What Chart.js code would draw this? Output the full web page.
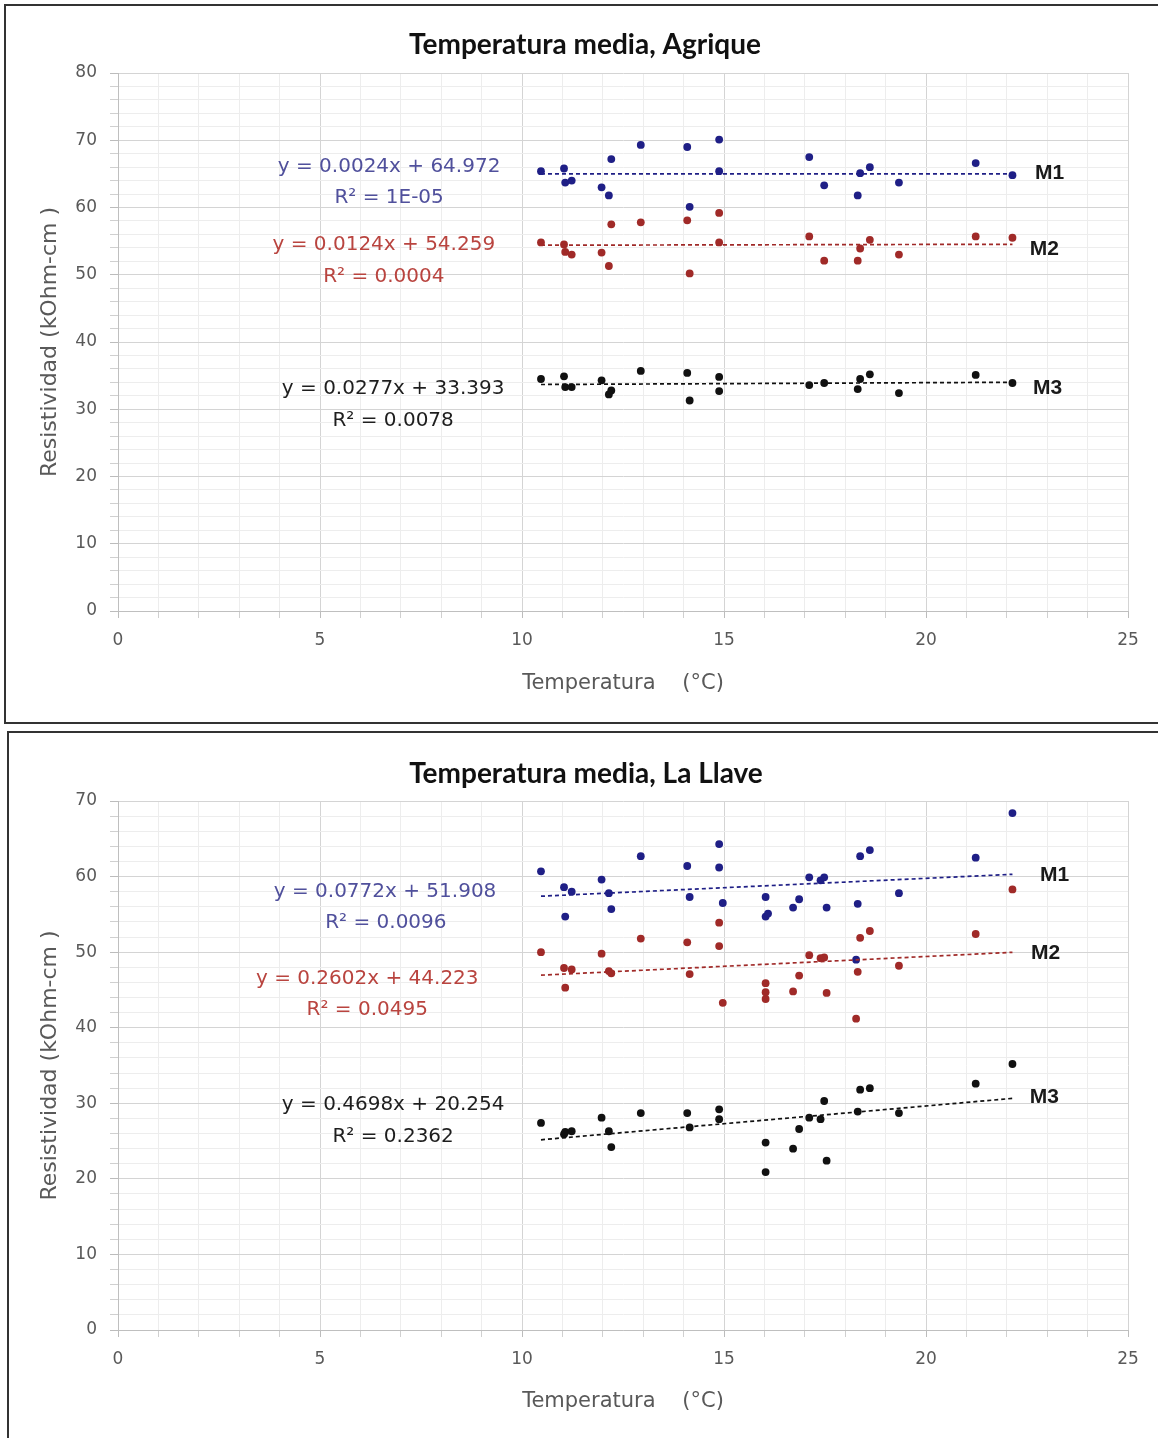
<!DOCTYPE html>
<html>
<head>
<meta charset="utf-8">
<script src="https://cdn.jsdelivr.net/npm/chart.js@4.4.1/dist/chart.umd.min.js"></script>
<style>
  html, body { margin: 0; padding: 0; background: #ffffff; overflow: hidden; }
  body { width: 1158px; height: 1438px; position: relative; }
  .frame { position: absolute; box-sizing: border-box; border: 2px solid #333333; background: #fff; }
  #f1 { left: 4px; top: 4px; width: 1156px; height: 720px; }
  #f2 { left: 7px; top: 731px; width: 1153px; height: 720px; }
  .frame canvas { display: block; }
</style>
</head>
<body>
<div class="frame" id="f1"><canvas id="c1" width="1152" height="716"></canvas></div>
<div class="frame" id="f2"><canvas id="c2" width="1149" height="716"></canvas></div>
<script>
// ---------------- DATA: Temperatura media, Agrique ----------------
const agriqueTemp = [10.47, 11.04, 11.07, 11.23, 11.97, 12.21, 12.15, 12.94, 14.09, 14.15, 14.88, 14.88, 17.11, 17.48, 18.31, 18.37, 18.61, 19.33, 21.23, 22.14];
const agriqueM1 = [65.4, 65.8, 63.7, 64.0, 63.0, 67.2, 61.8, 69.3, 69.0, 60.1, 70.1, 65.4, 67.5, 63.3, 61.8, 65.1, 66.0, 63.7, 66.6, 64.8];
const agriqueM2 = [54.8, 54.5, 53.4, 53.0, 53.3, 57.5, 51.3, 57.8, 58.1, 50.2, 59.2, 54.8, 55.7, 52.1, 52.1, 53.9, 55.2, 53.0, 55.7, 55.5];
const agriqueM3 = [34.5, 34.9, 33.3, 33.3, 34.3, 32.8, 32.2, 35.7, 35.4, 31.3, 34.8, 32.7, 33.6, 33.9, 33.0, 34.5, 35.2, 32.4, 35.1, 33.9];
// trend lines (start / end)
const agriqueTrendX = [10.47, 22.14];
const agriqueTrendM1 = [65.0, 65.0];
const agriqueTrendM2 = [54.39, 54.53];
const agriqueTrendM3 = [33.68, 34.01];

// ---------------- DATA: Temperatura media, La Llave ----------------
const llaveM1X = [10.47, 11.04, 11.07, 11.23, 11.97, 12.15, 12.21, 12.94, 14.09, 14.15, 14.88, 14.88, 14.97, 16.03, 16.03, 16.09, 16.71, 16.86, 17.11, 17.39, 17.48, 17.54, 18.27, 18.31, 18.37, 18.61, 19.33, 21.23, 22.14];
const llaveM1Y = [60.7, 58.6, 54.7, 58.0, 59.6, 57.8, 55.7, 62.7, 61.4, 57.3, 64.3, 61.2, 56.5, 57.3, 54.7, 55.1, 55.9, 57.0, 59.9, 59.5, 59.9, 55.9, 49.0, 56.4, 62.7, 63.5, 57.8, 62.5, 68.4];
const llaveM2X = [10.47, 11.04, 11.07, 11.23, 11.97, 12.15, 12.21, 12.94, 14.09, 14.15, 14.88, 14.88, 14.97, 16.03, 16.03, 16.03, 16.71, 16.86, 17.11, 17.39, 17.48, 17.54, 18.31, 18.27, 18.37, 18.61, 19.33, 21.23, 22.14];
const llaveM2Y = [50.0, 47.9, 45.3, 47.7, 49.8, 47.5, 47.2, 51.8, 51.3, 47.1, 53.9, 50.8, 43.3, 45.9, 44.7, 43.8, 44.8, 46.9, 49.6, 49.2, 49.3, 44.6, 47.4, 41.2, 51.9, 52.8, 48.2, 52.4, 58.3];
const llaveM3X = [10.47, 11.04, 11.07, 11.23, 11.97, 12.15, 12.21, 12.94, 14.09, 14.15, 14.88, 14.88, 16.03, 16.03, 16.71, 16.86, 17.11, 17.39, 17.48, 17.54, 18.31, 18.37, 18.61, 19.33, 21.23, 22.14];
const llaveM3Y = [27.4, 25.9, 26.2, 26.3, 28.1, 26.3, 24.2, 28.7, 28.7, 26.8, 29.2, 27.9, 24.8, 20.9, 24.0, 26.6, 28.1, 27.9, 30.3, 22.4, 28.9, 31.8, 32.0, 28.7, 32.6, 35.2];
const llaveTrendX = [10.47, 22.14];
const llaveTrendM1 = [57.4, 60.3];
const llaveTrendM2 = [46.95, 49.98];
const llaveTrendM3 = [25.17, 30.65];

// tick labels
const xTickLabels = [0, 5, 10, 15, 20, 25];
const agriqueYTickLabels = [0, 10, 20, 30, 40, 50, 60, 70, 80];
const llaveYTickLabels = [0, 10, 20, 30, 40, 50, 60, 70];

// ---------------- STYLE ----------------
const BLUE = '#1f1f86', RED = '#a02a28', BLACK = '#111111';
const BLUE_TXT = '#50509c', RED_TXT = '#b9443f', BLACK_TXT = '#1e1e1e';
const TEXT_GRAY = '#595959';
const FONT = "'DejaVu Sans', 'Open Sans', sans-serif";

function pts(xs, ys) { return xs.map((x, i) => ({ x: x, y: ys[i] })); }

const annotPlugin = {
  id: 'annot',
  afterDatasetsDraw(chart, args, opts) {
    const { ctx } = chart;
    const xs = chart.scales.x, ys = chart.scales.y;
    ctx.save();
    for (const t of opts.items) {
      ctx.font = t.font;
      ctx.fillStyle = t.color;
      ctx.textAlign = t.align || 'center';
      ctx.textBaseline = 'middle';
      ctx.fillText(t.text, xs.getPixelForValue(t.x), ys.getPixelForValue(t.y));
    }
    ctx.restore();
  }
};

function scatterSet(data, color) {
  return { type: 'scatter', data: data, backgroundColor: color, borderColor: color,
    pointRadius: 3.9, pointHoverRadius: 3.9, pointBorderWidth: 0, showLine: false, yAxisID: 'y' };
}
function trendSet(data, color) {
  return { type: 'line', data: data, borderColor: color, borderWidth: 1.7, borderDash: [4, 3],
    pointRadius: 0, fill: false, tension: 0, yAxisID: 'y' };
}

function makeChart(id, cfg) {
  const EQ_FONT = "20px " + FONT;
  const M_FONT = "bold 21px 'Liberation Sans', Arial, sans-serif";
  const items = cfg.eqs.map(e => ({ text: e.text, x: e.x, y: e.y, color: e.color, font: EQ_FONT }))
    .concat(cfg.mlabels.map(m => ({ text: m.text, x: m.x, y: m.y, color: '#1a1a1a', font: M_FONT, align: 'left' })));
  return new Chart(document.getElementById(id), {
    data: {
      datasets: [
        trendSet(pts(cfg.trendX, cfg.t1), BLUE),
        trendSet(pts(cfg.trendX, cfg.t2), RED),
        trendSet(pts(cfg.trendX, cfg.t3), BLACK),
        scatterSet(pts(cfg.m1x, cfg.m1), BLUE),
        scatterSet(pts(cfg.m2x, cfg.m2), RED),
        scatterSet(pts(cfg.m3x, cfg.m3), BLACK)
      ]
    },
    options: {
      responsive: false,
      animation: false,
      events: [],
      layout: { padding: { left: cfg.padLeft, right: 0, top: 0, bottom: 0 } },
      plugins: {
        legend: { display: false },
        tooltip: { enabled: false },
        title: {
          display: true, text: cfg.title, color: '#111111',
          font: { family: "Lato, 'Open Sans', sans-serif", size: 28, weight: 'bold', lineHeight: 1.0 },
          padding: { top: cfg.titleTop, bottom: cfg.titleBottom }
        },
        annot: { items: items }
      },
      scales: {
        x: {
          type: 'linear', min: 0, max: 25,
          afterFit: s => { s.height = cfg.xHeight; },
          afterBuildTicks: s => { const t = []; for (let v = 0; v <= 25; v += 1) t.push({ value: v }); s.ticks = t; },
          ticks: {
            autoSkip: false, maxRotation: 0, color: TEXT_GRAY, padding: 12,
            font: { family: FONT, size: 17 },
            callback: v => (xTickLabels.includes(v) ? String(v) : '')
          },
          grid: {
            color: c => (c.tick && xTickLabels.includes(c.tick.value)) ? '#d4d4d4' : '#ededed',
            tickColor: c => (c.tick && xTickLabels.includes(c.tick.value)) ? '#bcbcbc' : '#d0d0d0',
            tickLength: 7, lineWidth: 1
          },
          border: { color: '#bfbfbf', width: 1 },
          title: {
            display: true, text: 'Temperatura    (°C)', color: TEXT_GRAY,
            font: { family: FONT, size: 21, lineHeight: 1.2 },
            padding: { top: 0, bottom: cfg.xTitleBottom }
          }
        },
        y: {
          type: 'linear', position: 'left', min: 0, max: cfg.yMax,
          afterFit: s => { s.width = cfg.yWidth; },
          afterBuildTicks: s => { const t = []; for (let v = 0; v <= cfg.yMax; v += 2) t.push({ value: v }); s.ticks = t; },
          ticks: {
            autoSkip: false, color: TEXT_GRAY, padding: 13,
            font: { family: FONT, size: 17 },
            callback: v => (cfg.yTickLabels.includes(v) ? String(v) : '')
          },
          grid: {
            color: c => (c.tick && cfg.yTickLabels.includes(c.tick.value)) ? '#d4d4d4' : '#ededed',
            tickColor: c => (c.tick && cfg.yTickLabels.includes(c.tick.value)) ? '#bcbcbc' : '#d0d0d0',
            tickLength: 8, lineWidth: 1
          },
          border: { color: '#bfbfbf', width: 1 },
          title: {
            display: true, text: 'Resistividad (kOhm-cm )', color: TEXT_GRAY,
            font: { family: FONT, size: 22, lineHeight: 1.2 },
            padding: { top: cfg.yTitleTop, bottom: 0 }
          }
        },
        // empty right-hand strip (keeps the title centred on the whole frame)
        yRight: {
          type: 'linear', position: 'right', min: 0, max: cfg.yMax,
          afterFit: s => { s.width = cfg.rightGap; },
          ticks: { display: false },
          grid: { display: false, drawTicks: false },
          border: { display: false },
          title: { display: false }
        }
      }
    },
    plugins: [annotPlugin]
  });
}

makeChart('c1', {
  title: 'Temperatura media, Agrique',
  titleTop: 25, titleBottom: 14, padLeft: 6, rightGap: 30, yWidth: 106, xHeight: 111, xTitleBottom: 26, yTitleTop: 25,
  yMax: 80, yTickLabels: agriqueYTickLabels,
  m1x: agriqueTemp, m2x: agriqueTemp, m3x: agriqueTemp,
  m1: agriqueM1, m2: agriqueM2, m3: agriqueM3,
  trendX: agriqueTrendX, t1: agriqueTrendM1, t2: agriqueTrendM2, t3: agriqueTrendM3,
  eqs: [
    { text: 'y = 0.0024x + 64.972', x: 6.71, y: 66.0, color: BLUE_TXT },
    { text: 'R² = 1E-05', x: 6.71, y: 61.4, color: BLUE_TXT },
    { text: 'y = 0.0124x + 54.259', x: 6.58, y: 54.4, color: RED_TXT },
    { text: 'R² = 0.0004', x: 6.58, y: 49.7, color: RED_TXT },
    { text: 'y = 0.0277x + 33.393', x: 6.81, y: 33.0, color: BLACK_TXT },
    { text: 'R² = 0.0078', x: 6.81, y: 28.25, color: BLACK_TXT }
  ],
  mlabels: [
    { text: 'M1', x: 22.7, y: 65.1 },
    { text: 'M2', x: 22.57, y: 53.8 },
    { text: 'M3', x: 22.65, y: 33.2 }
  ]
});

makeChart('c2', {
  title: 'Temperatura media, La Llave',
  titleTop: 27, titleBottom: 13, padLeft: 5, rightGap: 30, yWidth: 104, xHeight: 119, xTitleBottom: 35, yTitleTop: 23,
  yMax: 70, yTickLabels: llaveYTickLabels,
  m1x: llaveM1X, m2x: llaveM2X, m3x: llaveM3X,
  m1: llaveM1Y, m2: llaveM2Y, m3: llaveM3Y,
  trendX: llaveTrendX, t1: llaveTrendM1, t2: llaveTrendM2, t3: llaveTrendM3,
  eqs: [
    { text: 'y = 0.0772x + 51.908', x: 6.61, y: 57.96, color: BLUE_TXT },
    { text: 'R² = 0.0096', x: 6.63, y: 53.86, color: BLUE_TXT },
    { text: 'y = 0.2602x + 44.223', x: 6.17, y: 46.45, color: RED_TXT },
    { text: 'R² = 0.0495', x: 6.17, y: 42.34, color: RED_TXT },
    { text: 'y = 0.4698x + 20.254', x: 6.81, y: 29.77, color: BLACK_TXT },
    { text: 'R² = 0.2362', x: 6.81, y: 25.54, color: BLACK_TXT }
  ],
  mlabels: [
    { text: 'M1', x: 22.82, y: 60.2 },
    { text: 'M2', x: 22.6, y: 49.9 },
    { text: 'M3', x: 22.57, y: 30.8 }
  ]
});
</script>
</body>
</html>
